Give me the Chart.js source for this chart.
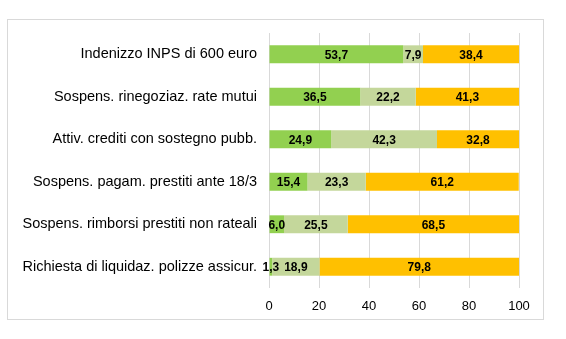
<!DOCTYPE html>
<html>
<head>
<meta charset="utf-8">
<script src="https://cdn.jsdelivr.net/npm/chart.js@4/dist/chart.umd.min.js"></script>
<style>
  html, body { margin: 0; padding: 0; background: #fff; }
  #wrap { position: relative; width: 566px; height: 339px; }
  #frame { position: absolute; left: 7px; top: 19px; width: 537px; height: 301px; border: 1px solid #d9d9d9; box-sizing: border-box; pointer-events: none; }
  canvas { position: absolute; left: 0; top: 0; }
</style>
</head>
<body>
<div id="wrap">
  <canvas id="c" width="566" height="339"></canvas>
  <div id="frame"></div>
</div>
<script>
// Survey categories (top to bottom)
const categories = [
  "Indenizzo INPS di 600 euro",
  "Sospens. rinegoziaz. rate mutui",
  "Attiv. crediti con sostegno pubb.",
  "Sospens. pagam. prestiti ante 18/3",
  "Sospens. rimborsi prestiti non rateali",
  "Richiesta di liquidaz. polizze assicur."
];
// Shares (%) per response group
const seriesA = [53.7, 36.5, 24.9, 15.4, 6.0, 1.3];
const seriesB = [7.9, 22.2, 42.3, 23.3, 25.5, 18.9];
const seriesC = [38.4, 41.3, 32.8, 61.2, 68.5, 79.8];
const xTicks = [0, 20, 40, 60, 80, 100];

const colors = ["#92D050", "#C4D79B", "#FFC000"];

// Writes each segment's value (comma decimal) centred on the bar
const valueLabels = {
  id: "valueLabels",
  afterDatasetsDraw(chart) {
    const ctx = chart.ctx;
    ctx.save();
    ctx.font = "bold 12px 'Liberation Sans', Arial, sans-serif";
    ctx.fillStyle = "#000";
    ctx.textAlign = "center";
    ctx.textBaseline = "middle";
    chart.data.datasets.forEach((ds, i) => {
      const meta = chart.getDatasetMeta(i);
      meta.data.forEach((bar, j) => {
        const v = ds.data[j];
        const cx = (bar.x + bar.base) / 2;
        ctx.fillText(v.toFixed(1).replace(".", ","), cx, bar.y + 1);
      });
    });
    ctx.restore();
  }
};

new Chart(document.getElementById("c"), {
  type: "bar",
  data: {
    labels: categories,
    datasets: [
      { label: "A", data: seriesA, backgroundColor: colors[0] },
      { label: "B", data: seriesB, backgroundColor: colors[1] },
      { label: "C", data: seriesC, backgroundColor: colors[2] }
    ]
  },
  options: {
    indexAxis: "y",
    responsive: false,
    animation: false,
    devicePixelRatio: 1,
    layout: { padding: { top: 33, right: 47, bottom: 0, left: 0 } },
    plugins: { legend: { display: false }, tooltip: { enabled: false } },
    datasets: { bar: { barPercentage: 0.42, categoryPercentage: 1.0 } },
    scales: {
      x: {
        stacked: true,
        min: 0,
        max: 100,
        afterBuildTicks(axis) { axis.ticks = xTicks.map(v => ({ value: v })); },
        grid: { color: "#d9d9d9", drawTicks: false },
        border: { display: false },
        ticks: {
          padding: 11,
          color: "#000",
          font: { family: "'Liberation Sans', Arial, sans-serif", size: 13 }
        },
        afterFit(axis) { axis.height = 51; }
      },
      y: {
        stacked: true,
        grid: { display: false, drawTicks: false },
        border: { display: false },
        ticks: {
          padding: 12,
          color: "#000",
          font: { family: "'Liberation Sans', Arial, sans-serif", size: 14.5 }
        },
        afterFit(axis) { axis.width = 269; }
      }
    }
  },
  plugins: [valueLabels]
});
</script>
</body>
</html>
